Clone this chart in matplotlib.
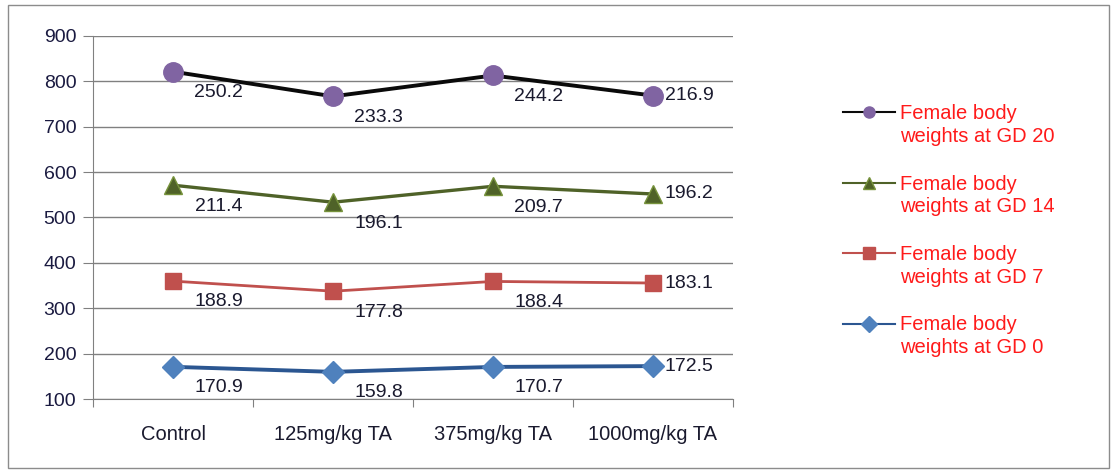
import matplotlib
matplotlib.use("Agg")
import matplotlib.pyplot as plt
from matplotlib.lines import Line2D
from matplotlib.patches import Rectangle
import numpy as np

categories = ["Control", "125mg/kg TA", "375mg/kg TA", "1000mg/kg TA"]
gd0 = [170.9, 159.8, 170.7, 172.5]
gd7 = [188.9, 177.8, 188.4, 183.1]
gd14 = [211.4, 196.1, 209.7, 196.2]
gd20 = [250.2, 233.3, 244.2, 216.9]
series_names = ["Female body\nweights at GD 0", "Female body\nweights at GD 7",
                "Female body\nweights at GD 14", "Female body\nweights at GD 20"]
yticks = [100, 200, 300, 400, 500, 600, 700, 800, 900]

plt.rcParams['font.family'] = ['Liberation Sans', 'DejaVu Sans']

W, H = 1117, 473
fig = plt.figure(figsize=(W / 100, H / 100), dpi=100)
fig.patches.append(Rectangle((8/W, 5/H), 1 - 16/W, 1 - 10/H,
                             transform=fig.transFigure, fill=False,
                             edgecolor='#8c8c8c', linewidth=1.0))
ax = fig.add_axes([93/W, 1 - 399/H, 640/W, 363/H])

x = np.arange(len(categories))
data = [gd0, gd7, gd14, gd20]
cum = np.cumsum(np.array(data), axis=0)

styles = [
    dict(color='#2B5691', lw=2.8, marker='D', mfc='#4F81BD', mec='#4F81BD', ms=11),
    dict(color='#C0504D', lw=2.0, marker='s', mfc='#C0504D', mec='#C0504D', ms=12),
    dict(color='#4F6228', lw=2.4, marker='^', mfc='#4F6228', mec='#77933C', ms=13),
    dict(color='#0a0a0a', lw=2.8, marker='o', mfc='#8064A2', mec='#8064A2', ms=14),
]

label_color = '#1a1a2e'
for i in range(4):
    s = styles[i]
    ax.plot(x, cum[i], color=s['color'], lw=s['lw'], marker=s['marker'],
            mfc=s['mfc'], mec=s['mec'], ms=s['ms'], zorder=3)
    for j in range(len(categories)):
        if j < len(categories) - 1:
            off = (33, -15)
        else:
            off = (26, 0)
        ax.annotate(f"{data[i][j]:.1f}", (x[j], cum[i][j]), xytext=off,
                    textcoords='offset points', ha='center', va='center',
                    fontsize=14, color=label_color)

ax.set_xlim(-0.5, len(categories) - 0.5)
ax.set_ylim(100, 900)
ax.set_yticks(yticks)
ax.set_yticklabels([str(v) for v in yticks], fontsize=14, color='#1a1a40')
ax.yaxis.grid(True, color='#808080', lw=1.0)
ax.set_axisbelow(True)
ax.set_xticks(np.arange(-0.5, len(categories), 1.0))
ax.set_xticklabels([])
ax.set_xticks(x, minor=True)
ax.set_xticklabels(categories, minor=True, fontsize=14.5, color=label_color)
ax.tick_params(axis='x', which='minor', length=0, pad=19)
ax.tick_params(axis='x', which='major', length=6, color='#808080')
ax.tick_params(axis='y', length=7, color='#808080', pad=5)
for side in ['top', 'right']:
    ax.spines[side].set_visible(False)
ax.spines['left'].set_color('#808080')
ax.spines['bottom'].set_color('#808080')

# Manual legend (Excel style: handle aligned with first text line)
order = [3, 2, 1, 0]
y0 = 112
step = 70.5
for k, i in enumerate(order):
    s = styles[i]
    yy = 1 - (y0 + k * step) / H
    fig.add_artist(Line2D([843/W, 895/W], [yy, yy], transform=fig.transFigure,
                          color=s['color'], lw=1.5))
    fig.add_artist(Line2D([869/W], [yy], transform=fig.transFigure,
                          marker=s['marker'], mfc=s['mfc'], mec=s['mec'], ms=8,
                          lw=0))
    fig.text(900/W, 1 - (y0 + k * step - 8) / H, series_names[i],
             ha='left', va='top', fontsize=14.5, color='#ff1a1a',
             linespacing=1.25)

fig.savefig("out.png", dpi=100)
